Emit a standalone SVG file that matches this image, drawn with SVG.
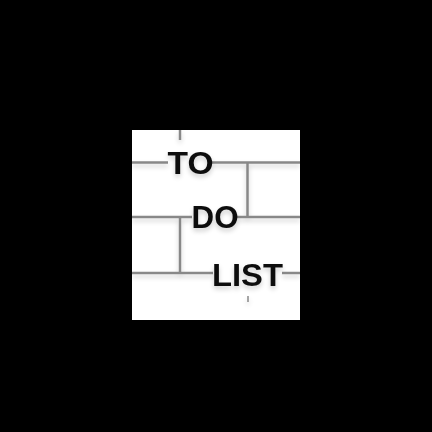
<svg xmlns="http://www.w3.org/2000/svg" width="432" height="432" viewBox="0 0 432 432">
<defs>
<filter id="sh" x="-20%" y="-20%" width="140%" height="160%">
<feGaussianBlur in="SourceAlpha" stdDeviation="2.5"/>
<feOffset dy="3" result="b"/>
<feComponentTransfer><feFuncA type="linear" slope="0.2"/></feComponentTransfer>
<feMerge><feMergeNode/><feMergeNode in="SourceGraphic"/></feMerge>
</filter>
</defs>
<style>
.ln{stroke:#888;stroke-width:2.5;fill:none}
.tx{font-family:"Liberation Sans",Arial,sans-serif;font-weight:bold;font-size:31px;fill:#111;text-anchor:middle}
</style>
<rect width="432" height="432" fill="#000"/>
<rect x="132" y="130" width="168" height="190" fill="#fff"/>
<g id="connectors" class="ln" filter="url(#sh)">
<path d="M180 130V140"/>
<path d="M132 162.5H168M212 162.5H300"/>
<path d="M247.5 162.5V217"/>
<path d="M132 217H192M237 217H300"/>
<path d="M180 217V273"/>
<path d="M132 273H213M282 273H300"/>
<path d="M248 296V302" stroke-width="1.5"/>
</g>
<g id="to" filter="url(#sh)"><text class="tx" x="190.5" y="173.5" textLength="46" lengthAdjust="spacingAndGlyphs">TO</text></g>
<g id="do" filter="url(#sh)"><text class="tx" x="215" y="228.3" textLength="47" lengthAdjust="spacingAndGlyphs">DO</text></g>
<g id="list" filter="url(#sh)"><text class="tx" x="247.5" y="285.5" textLength="71" lengthAdjust="spacingAndGlyphs">LIST</text></g>
</svg>
